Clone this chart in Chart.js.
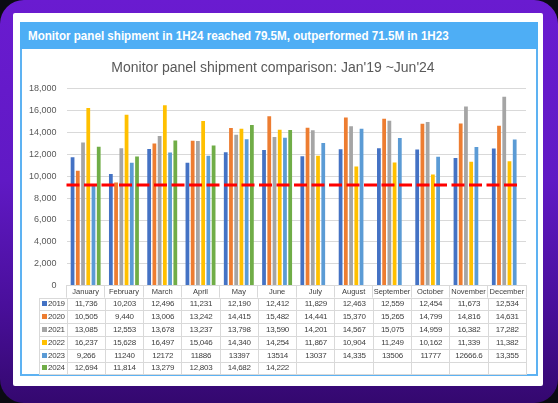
<!DOCTYPE html>
<html>
<head>
<meta charset="utf-8">
<script src="https://cdn.jsdelivr.net/npm/chart.js@4.4.1/dist/chart.umd.min.js"></script>
<style>
    html, body { margin: 0; padding: 0; background: #0b0b12; }
    #frame {
        position: relative; width: 558px; height: 403px; border-radius: 24px; overflow: hidden;
        background: linear-gradient(180deg, #6a1bd0 0%, #6019c4 45%, #4a0f9c 75%, #34086f 100%);
    }
    #card { position: absolute; left: 13px; top: 13px; width: 530px; height: 373px; background: #fff; border-radius: 2px; }
    #box { position: absolute; left: 20px; top: 22px; width: 518px; height: 354px; box-sizing: border-box; border: 2px solid #5db2f2; }
    #header {
        position: absolute; left: 20px; top: 22px; width: 518px; height: 27px; background: #4eaef5;
        color: #fff; font: bold 13.5px "Liberation Sans", sans-serif;
        line-height: 27px; padding-left: 8px; box-sizing: border-box; white-space: nowrap;
    }
    #header span { display: inline-block; transform: scaleX(0.86); transform-origin: left center; }
    #chartWrap { position: absolute; left: 20px; top: 49px; width: 518px; height: 252px; }
    #dataTable {
        position: absolute; border-collapse: collapse; table-layout: fixed;
        font: 8px "Liberation Sans", sans-serif; color: #404040; letter-spacing: -0.25px;
    }
    #dataTable tr { height: 12.8px; }
    #dataTable td { border: 1px solid #d9d9d9; padding: 0; text-align: center; white-space: nowrap; overflow: hidden; line-height: 10px; }
    #dataTable td.yr { text-align: left; padding-left: 2px; }
    .sw { display: inline-block; width: 5px; height: 5px; margin-right: 1px; vertical-align: 0px; }
</style>
</head>
<body>
<div id="frame">
    <div id="card"></div>
    <div id="box"></div>
    <div id="header"><span>Monitor panel shipment in 1H24 reached 79.5M, outperformed 71.5M in 1H23</span></div>
    <div id="chartWrap"><canvas id="chart"></canvas></div>
    <table id="dataTable"></table>
</div>
<script>
const months = ["January", "February", "March", "April", "May", "June", "July", "August", "September", "October", "November", "December"];
const years = ["2019", "2020", "2021", "2022", "2023", "2024"];

const sales2019 = [11736, 10203, 12496, 11231, 12190, 12412, 11829, 12463, 12559, 12454, 11673, 12534];
const sales2020 = [10505, 9440, 13006, 13242, 14415, 15482, 14441, 15370, 15265, 14799, 14816, 14631];
const sales2021 = [13085, 12553, 13678, 13237, 13798, 13590, 14201, 14567, 15075, 14959, 16382, 17282];
const sales2022 = [16237, 15628, 16497, 15046, 14340, 14254, 11867, 10904, 11249, 10162, 11339, 11382];
const sales2023 = [9266, 11240, 12172, 11886, 13397, 13514, 13037, 14335, 13506, 11777, 12666.6, 13355];
const sales2024 = [12694, 11814, 13279, 12803, 14682, 14222];

// the source table shows some 2023 cells unformatted
const table2023 = ["9,266", "11240", "12172", "11886", "13397", "13514", "13037", "14,335", "13506", "11777", "12666.6", "13,355"];

const yTicks = [0, 2000, 4000, 6000, 8000, 10000, 12000, 14000, 16000, 18000];
const referenceLine = 9200;

const seriesColors = ["#4472c4", "#ed7d31", "#a5a5a5", "#ffc000", "#5b9bd5", "#70ad47"];
const allSeries = [sales2019, sales2020, sales2021, sales2022, sales2023, sales2024];

const fmt = (v) => v.toLocaleString("en-US");
const FONT = "'Liberation Sans', sans-serif";

const dashedLine = {
    id: "dashedLine",
    afterDatasetsDraw(chart) {
        const { ctx, chartArea, scales } = chart;
        const y = scales.y.getPixelForValue(referenceLine);
        ctx.save();
        ctx.strokeStyle = "#ff0000";
        ctx.lineWidth = 3;
        ctx.setLineDash([13, 4.5]);
        ctx.beginPath();
        ctx.moveTo(chartArea.left, y);
        ctx.lineTo(chartArea.right - 8, y);
        ctx.stroke();
        ctx.restore();
    }
};

const chart = new Chart(document.getElementById("chart"), {
    type: "bar",
    data: {
        labels: months,
        datasets: years.map((yr, i) => ({
            label: yr,
            data: allSeries[i],
            backgroundColor: seriesColors[i],
            categoryPercentage: 0.82,
            barPercentage: 0.72,
        })),
    },
    options: {
        responsive: true,
        maintainAspectRatio: false,
        animation: false,
        layout: { padding: { left: 0, right: 12, top: 0, bottom: 0 } },
        plugins: {
            legend: { display: false },
            tooltip: { enabled: false },
            title: {
                display: true,
                text: "Monitor panel shipment comparison: Jan'19 ~Jun'24",
                color: "#595959",
                font: { family: FONT, size: 14, weight: "normal" },
                padding: { top: 11, bottom: 12 },
            },
        },
        scales: {
            x: {
                grid: { display: true, drawOnChartArea: false, drawTicks: true, tickLength: 12, offset: true, color: "#d9d9d9" },
                border: { display: true, color: "#d9d9d9" },
                ticks: { color: "#404040", font: { family: FONT, size: 7.5 }, padding: -10.5, maxRotation: 0, autoSkip: false },
                afterFit: (scale) => { scale.height = 12; },
            },
            y: {
                min: 0,
                max: 18000,
                afterBuildTicks: (scale) => { scale.ticks = yTicks.map((v) => ({ value: v })); },
                grid: { color: "#d9d9d9", drawTicks: false },
                border: { display: false },
                ticks: { color: "#595959", font: { family: FONT, size: 9 }, padding: 10, callback: (v) => fmt(v) },
                afterFit: (scale) => { scale.width = 46.5; },
            },
        },
    },
    plugins: [dashedLine],
});

function buildTable() {
    const area = chart.chartArea;
    const colW = (area.right - area.left) / months.length;
    const firstW = 27.5;
    const table = document.getElementById("dataTable");
    table.style.left = (20 + area.left - firstW) + "px";
    table.style.top = (49 + area.bottom + 12) + "px";
    table.style.width = (firstW + colW * months.length) + "px";
    let html = `<colgroup><col style="width:${firstW}px">` + months.map(() => `<col style="width:${colW}px">`).join("") + "</colgroup>";
    years.forEach((yr, i) => {
        html += `<tr><td class="yr"><span class="sw" style="background:${seriesColors[i]}"></span>${yr}</td>`;
        months.forEach((m, j) => {
            const v = allSeries[i][j];
            let txt = "";
            if (v !== undefined) txt = i === 4 ? table2023[j] : fmt(v);
            html += `<td>${txt}</td>`;
        });
        html += "</tr>";
    });
    table.innerHTML = html;
}
buildTable();
</script>
</body>
</html>
